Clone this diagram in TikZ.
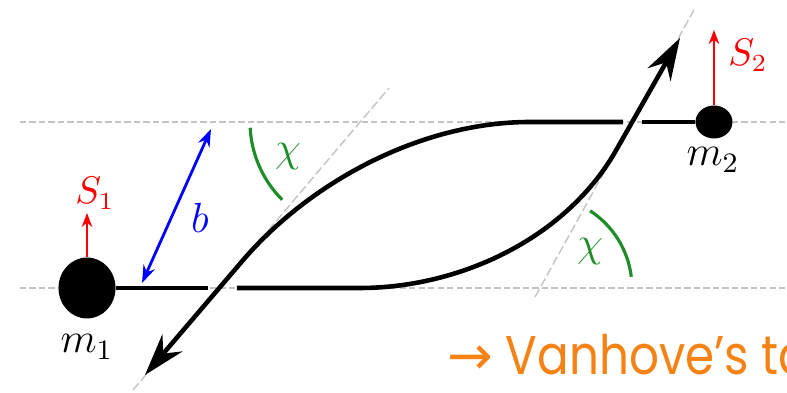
\documentclass[tikz,border=0pt]{standalone}
\usepackage{fontspec}
\newfontfamily\notefont[FakeStretch=0.86]{Poppins}
\newfontfamily\symfont{DejaVu Sans}
\usetikzlibrary{arrows.meta,shapes.geometric}
\definecolor{chigreen}{RGB}{30,140,40}
\definecolor{noteorange}{RGB}{245,130,20}
\definecolor{guidegray}{RGB}{195,195,195}

\begin{document}
\begin{tikzpicture}[
  x=1cm, y=1cm,
  every node/.style={inner sep=1pt},
  mass/.style={ellipse, fill=black, inner sep=0pt},
  lbl/.style={font=\large},
  spinlbl/.style={text=red, font=\fontsize{10.5}{12}\selectfont},
  guide/.style={draw=guidegray, line width=0.6pt, dash pattern=on 1.8pt off 0.9pt},
  asym/.style={draw=guidegray, line width=0.4pt, dash pattern=on 2.5pt off 1pt},
  track/.style={draw, line width=0.9pt},
  outarrow/.style={draw, line width=1.3pt, -{Stealth[length=12pt,width=7.5pt,inset=4pt]}},
  spin/.style={draw=red, line width=0.6pt, -{Stealth[length=4pt,width=3pt]}},
  impact/.style={draw=blue, line width=0.8pt,
    {Stealth[length=5pt,width=3.5pt]}-{Stealth[length=5pt,width=3.5pt]}},
  angle/.style={draw=chigreen, line width=0.9pt}]

  \useasboundingbox (0,0) rectangle (7.87,3.93);

  % guide lines and asymptotes
  \coordinate (tl)  at (0.20,2.71);
  \coordinate (tr)  at (7.87,2.71);
  \coordinate (bl)  at (0.20,1.05);
  \coordinate (br)  at (7.87,1.05);
  \coordinate (alo) at (1.33,0.03);
  \coordinate (ahi) at (3.89,3.05);
  \coordinate (blo) at (5.35,0.96);
  \coordinate (bhi) at (6.94,3.83);
  \draw[guide] (tl) -- (tr);
  \draw[guide] (bl) -- (br);
  \draw[asym] (alo) -- (ahi);
  \draw[asym] (blo) -- (bhi);

  % masses
  \node[mass, minimum width=0.57cm, minimum height=0.61cm] (m1) at (0.87,1.05) {};
  \node[mass, minimum width=0.37cm, minimum height=0.33cm] (m2) at (7.14,2.71) {};

  % trajectory of m1
  \coordinate (c1)   at (2.08,1.05);
  \coordinate (c2)   at (2.37,1.05);
  \coordinate (c3)   at (3.60,1.05);
  \coordinate (c4)   at (6.174,2.45);
  \coordinate (tip1) at (6.80,3.55);
  \draw[track] (m1) -- (c1);
  \draw[outarrow] (c2) -- (c3) .. controls (4.60,1.05) and (5.676,1.55) .. (c4) -- (tip1);

  % trajectory of m2
  \coordinate (d1)   at (6.42,2.71);
  \coordinate (d2)   at (6.23,2.71);
  \coordinate (d3)   at (5.30,2.71);
  \coordinate (d4)   at (2.406,1.30);
  \coordinate (tip2) at (1.45,0.18);
  \draw[track] (m2) -- (d1);
  \draw[outarrow] (d2) -- (d3) .. controls (4.20,2.71) and (3.08,2.10) .. (d4) -- (tip2);

  % spins
  \coordinate (s1) at (0.87,1.80);
  \coordinate (s2) at (7.14,3.63);
  \draw[spin] (m1) -- (s1);
  \draw[spin] (m2) -- (s2);

  % impact parameter
  \coordinate (b1) at (1.42,1.10);
  \coordinate (b2) at (2.11,2.64);
  \draw[impact] (b1) -- (b2);

  % scattering angles
  \coordinate (x1) at (3.60,2.71);
  \coordinate (x2) at (5.40,1.05);
  \draw[angle] (x1) ++(183:1.10) arc[start angle=183, end angle=225, radius=1.10];
  \draw[angle] (x2) ++(7:0.92) arc[start angle=7, end angle=57, radius=0.92];

  % labels
  \node[lbl] (lm1) at (0.87,0.46) {$m_1$};
  \node[lbl] (lm2) at (7.13,2.33) {$m_2$};
  \node[spinlbl] (ls1) at (0.95,2.00) {$S_1$};
  \node[spinlbl] (ls2) at (7.48,3.38) {$S_2$};
  \node[lbl, text=blue] (lb) at (2.00,1.75) {$b$};
  \node[lbl, text=chigreen] (lchi1) at (2.88,2.36) {$\chi$};
  \node[lbl, text=chigreen] (lchi2) at (5.90,1.41) {$\chi$};
  \node[anchor=base west, inner sep=0pt, text=noteorange,
    font=\notefont\fontsize{15.5}{18}\selectfont] (note) at (4.47,0.18)
    {{\symfont →} Vanhove’s ta};
\end{tikzpicture}
\end{document}
